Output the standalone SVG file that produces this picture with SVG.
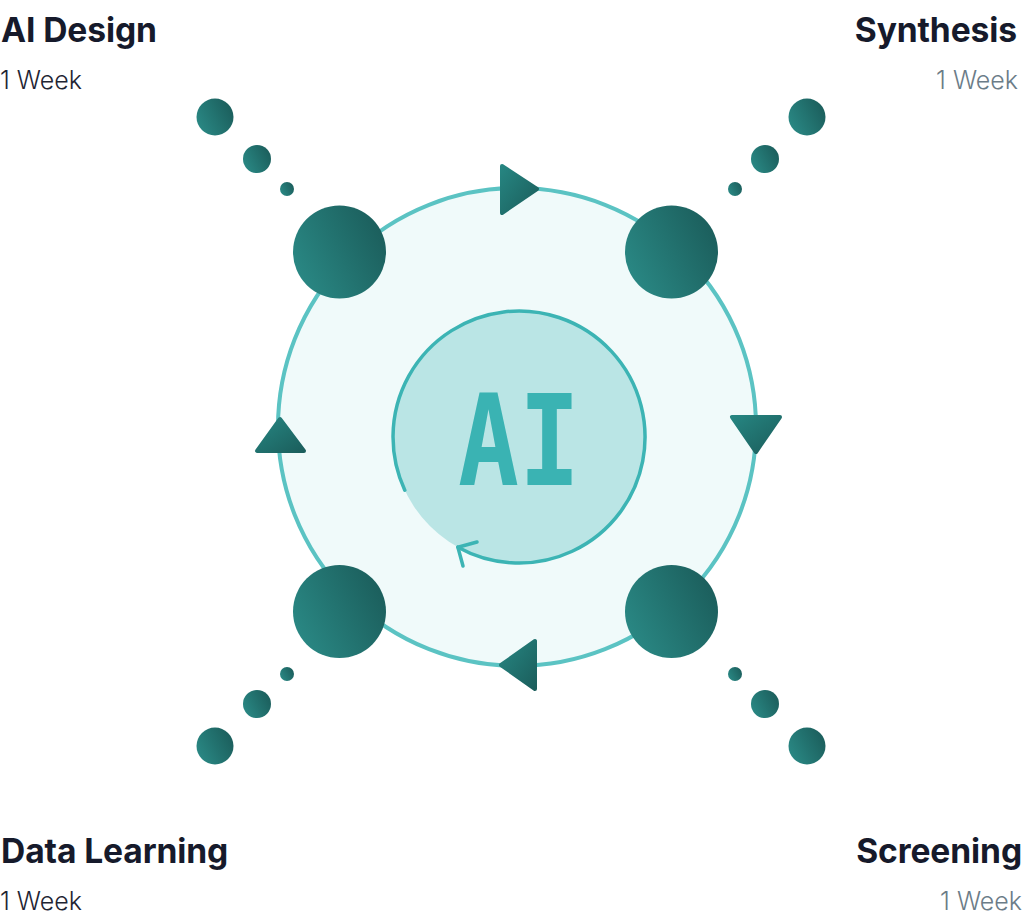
<svg xmlns="http://www.w3.org/2000/svg" width="1024" height="920" viewBox="0 0 1024 920">
<defs>
<linearGradient id="ball" x1="0" y1="0.75" x2="1" y2="0.25">
<stop offset="0" stop-color="#2a8985"/>
<stop offset="1" stop-color="#1b5d5b"/>
</linearGradient>
<linearGradient id="tri" x1="0" y1="0" x2="1" y2="1">
<stop offset="0" stop-color="#268581"/>
<stop offset="1" stop-color="#1b5e5c"/>
</linearGradient>
<style>
.title{font-family:Inter,"Liberation Sans",sans-serif;font-weight:700;font-size:33.6px;fill:#161a2b;letter-spacing:-0.1px}
.sub{font-family:Inter,"Liberation Sans",sans-serif;font-weight:300;font-size:25px}
.subd{fill:#1e2433}
.subg{fill:#6b7c88}
.ball{fill:url(#ball)}
.arrow{fill:url(#tri);stroke:url(#tri);stroke-width:4;stroke-linejoin:round}
</style>
</defs>
<rect width="1024" height="920" fill="#ffffff"/>

<g id="connectors">
<circle cx="517" cy="427" r="239" fill="#f0fafa" stroke="#5bc3c3" stroke-width="4"/>
<polygon class="arrow" points="502,166 537,189 502,213"/>
<polygon class="arrow" points="732,417 780,417 756,452"/>
<polygon class="arrow" points="501,665 535,641 535,689"/>
<polygon class="arrow" points="280,419 257,451 304,451"/>
</g>

<g id="center">
<circle cx="519" cy="437" r="126" fill="#bae5e5"/>
<path d="M404.8,490.2 A126,126 0 1 1 457.9,547.2" fill="none" stroke="#3cb4b4" stroke-width="3.5" stroke-linecap="round"/>
<polyline points="477,542 457.9,547.2 463,566" fill="none" stroke="#3cb4b4" stroke-width="3.5" stroke-linecap="round" stroke-linejoin="round"/>
<text x="458" y="485" textLength="122" lengthAdjust="spacingAndGlyphs" font-family="'DejaVu Sans Mono',monospace" font-weight="700" font-size="127" fill="#3ab3b3">AI</text>
</g>

<g id="ai-design">
<text class="title" x="1" y="42">AI Design</text>
<text class="sub subd" x="0" y="89">1 Week</text>
<circle class="ball" cx="215" cy="117" r="18.5"/>
<circle class="ball" cx="257" cy="159" r="14"/>
<circle class="ball" cx="287" cy="189" r="7"/>
<circle class="ball" cx="339.5" cy="252" r="46.5"/>
</g>

<g id="synthesis">
<text class="title" x="1017" y="42" text-anchor="end">Synthesis</text>
<text class="sub subg" x="1018" y="89" text-anchor="end">1 Week</text>
<circle class="ball" cx="807" cy="117" r="18.5"/>
<circle class="ball" cx="765" cy="159" r="14"/>
<circle class="ball" cx="735" cy="189" r="7"/>
<circle class="ball" cx="671.5" cy="252" r="46.5"/>
</g>

<g id="screening">
<text class="title" x="1022" y="863" text-anchor="end">Screening</text>
<text class="sub subg" x="1022" y="910" text-anchor="end">1 Week</text>
<circle class="ball" cx="807" cy="746" r="18.5"/>
<circle class="ball" cx="765" cy="704" r="14"/>
<circle class="ball" cx="735" cy="674" r="7"/>
<circle class="ball" cx="671.5" cy="611.5" r="46.5"/>
</g>

<g id="data-learning">
<text class="title" x="1" y="863">Data Learning</text>
<text class="sub subd" x="0" y="910">1 Week</text>
<circle class="ball" cx="215" cy="746" r="18.5"/>
<circle class="ball" cx="257" cy="704" r="14"/>
<circle class="ball" cx="287" cy="674" r="7"/>
<circle class="ball" cx="339.5" cy="611.5" r="46.5"/>
</g>
</svg>
